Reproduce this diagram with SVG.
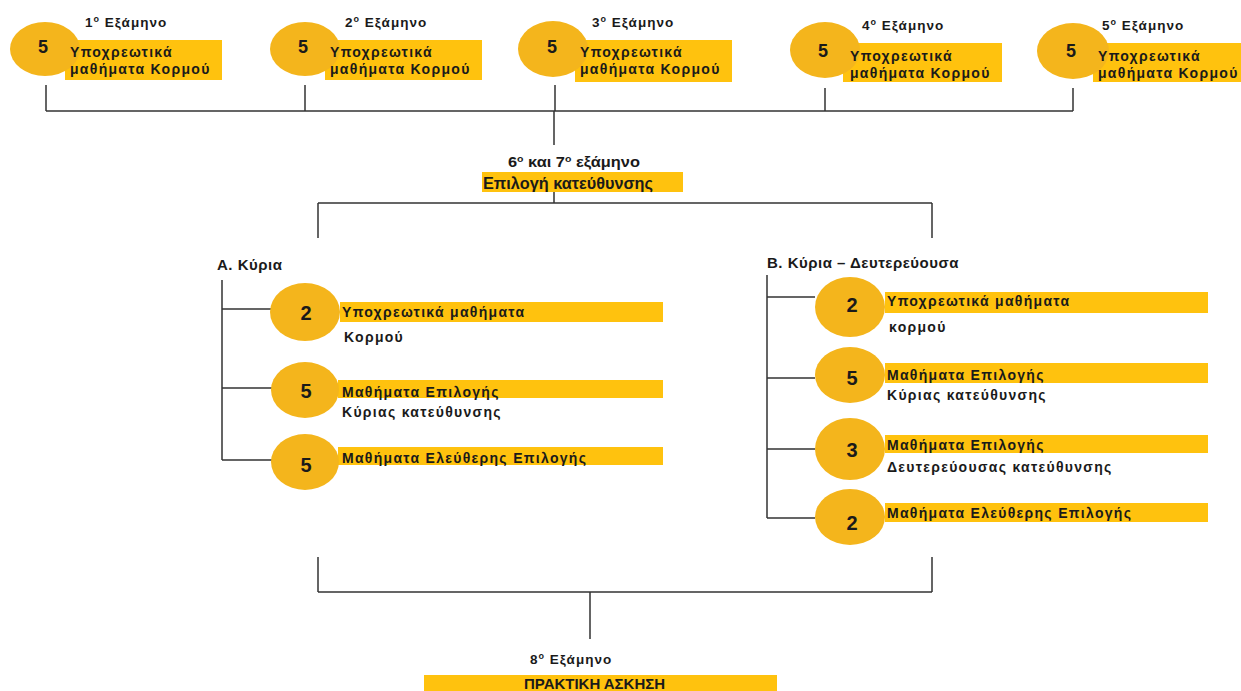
<svg xmlns="http://www.w3.org/2000/svg" width="1241" height="691" viewBox="0 0 1241 691">
<style>
.bg{fill:#ffffff}
.ell{fill:#F4B51C}
.bar{fill:#FFC20E}
.t{font-family:"Liberation Sans",Arial,sans-serif;font-weight:bold;fill:#1a1a1a}
.hd{font-size:13.5px;letter-spacing:1px}
.lb{font-size:14px;letter-spacing:1.3px}
.num{font-size:18px;text-anchor:middle}
.num2{font-size:20px;text-anchor:middle}
.br{font-size:15px;letter-spacing:0.5px}
.c{fill:none;stroke:#333;stroke-width:1.5}
</style>
<rect class="bg" x="0" y="0" width="1241" height="691"/>

<g id="connectors">
<path class="c" d="M46 85V111M305 85V111M555 85V111M825 88V111M1073 88V111M46 111H1073M554 111V145M554 192V203M318 203H932M318 203V238M932 203V238"/>
<path class="c" d="M222 280V460M222 309H272M222 388H272M222 460H272"/>
<path class="c" d="M767 275V518M767 297H815M767 378H815M767 449H815M767 518H815"/>
<path class="c" d="M318 557V592M932 557V592M318 592H932M590 592V639"/>
</g>

<g id="sem1">
<rect class="bar" x="65" y="40" width="157" height="40"/>
<ellipse class="ell" cx="45" cy="49" rx="35" ry="27"/>
<text class="t hd" x="85" y="27">1<tspan font-size="9" dy="-5">ο</tspan><tspan dy="5"> Εξάμηνο</tspan></text>
<text class="t num" x="43" y="53">5</text>
<text class="t lb" x="70" y="57">Υποχρεωτικά</text>
<text class="t lb" x="70" y="74">μαθήματα Κορμού</text>
</g>

<g id="sem2">
<rect class="bar" x="325" y="40" width="157" height="40"/>
<ellipse class="ell" cx="305" cy="49" rx="35" ry="27"/>
<text class="t hd" x="345" y="27">2<tspan font-size="9" dy="-5">ο</tspan><tspan dy="5"> Εξάμηνο</tspan></text>
<text class="t num" x="303" y="53">5</text>
<text class="t lb" x="330" y="57">Υποχρεωτικά</text>
<text class="t lb" x="330" y="74">μαθήματα Κορμού</text>
</g>

<g id="sem3">
<rect class="bar" x="575" y="40" width="157" height="42"/>
<ellipse class="ell" cx="553" cy="49" rx="35" ry="28"/>
<text class="t hd" x="592" y="27">3<tspan font-size="9" dy="-5">ο</tspan><tspan dy="5"> Εξάμηνο</tspan></text>
<text class="t num" x="552" y="53">5</text>
<text class="t lb" x="580" y="57">Υποχρεωτικά</text>
<text class="t lb" x="580" y="74">μαθήματα Κορμού</text>
</g>

<g id="sem4">
<rect class="bar" x="843" y="43" width="159" height="39"/>
<ellipse class="ell" cx="825" cy="50" rx="35" ry="28"/>
<text class="t hd" x="862" y="30">4<tspan font-size="9" dy="-5">ο</tspan><tspan dy="5"> Εξάμηνο</tspan></text>
<text class="t num" x="823" y="57">5</text>
<text class="t lb" x="850" y="61">Υποχρεωτικά</text>
<text class="t lb" x="850" y="78">μαθήματα Κορμού</text>
</g>

<g id="sem5">
<rect class="bar" x="1093" y="43" width="148" height="39"/>
<ellipse class="ell" cx="1073" cy="51" rx="36" ry="28"/>
<text class="t hd" x="1102" y="30">5<tspan font-size="9" dy="-5">ο</tspan><tspan dy="5"> Εξάμηνο</tspan></text>
<text class="t num" x="1071" y="57">5</text>
<text class="t lb" x="1098" y="61">Υποχρεωτικά</text>
<text class="t lb" x="1098" y="78">μαθήματα Κορμού</text>
</g>

<g id="sem67">
<text class="t" font-size="14" x="508" y="167" textLength="132" lengthAdjust="spacingAndGlyphs">6<tspan font-size="9" dy="-5">ο</tspan><tspan dy="5"> και 7</tspan><tspan font-size="9" dy="-5">ο</tspan><tspan dy="5"> εξάμηνο</tspan></text>
<rect class="bar" x="482" y="172" width="201" height="20"/>
<text class="t" font-size="17" x="483" y="189" textLength="170" lengthAdjust="spacingAndGlyphs">Επιλογή κατεύθυνσης</text>
</g>

<g id="branchA">
<text class="t br" x="217" y="270">Α. Κύρια</text>
</g>

<g id="a1">
<rect class="bar" x="340" y="302" width="323" height="20"/>
<ellipse class="ell" cx="305" cy="312" rx="35" ry="29"/>
<text class="t num2" x="306" y="320">2</text>
<text class="t lb" x="342" y="317">Υποχρεωτικά μαθήματα</text>
<text class="t lb" x="344" y="342">Κορμού</text>
</g>

<g id="a2">
<rect class="bar" x="338" y="380" width="325" height="18"/>
<ellipse class="ell" cx="305" cy="390" rx="34" ry="28"/>
<text class="t num2" x="306" y="398">5</text>
<text class="t lb" x="342" y="397">Μαθήματα Επιλογής</text>
<text class="t lb" x="342" y="417">Κύριας κατεύθυνσης</text>
</g>

<g id="a3">
<rect class="bar" x="338" y="447" width="325" height="18"/>
<ellipse class="ell" cx="305" cy="462" rx="34" ry="28"/>
<text class="t num2" x="306" y="472">5</text>
<text class="t lb" x="342" y="463">Μαθήματα Ελεύθερης Επιλογής</text>
</g>

<g id="branchB">
<text class="t br" x="767" y="268">Β. Κύρια – Δευτερεύουσα</text>
</g>

<g id="b1">
<rect class="bar" x="885" y="292" width="323" height="21"/>
<ellipse class="ell" cx="850" cy="307" rx="35" ry="30"/>
<text class="t num2" x="852" y="312">2</text>
<text class="t lb" x="887" y="306">Υποχρεωτικά μαθήματα</text>
<text class="t lb" x="889" y="332">κορμού</text>
</g>

<g id="b2">
<rect class="bar" x="885" y="363" width="323" height="20"/>
<ellipse class="ell" cx="850" cy="375" rx="35" ry="28"/>
<text class="t num2" x="852" y="385">5</text>
<text class="t lb" x="887" y="380">Μαθήματα Επιλογής</text>
<text class="t lb" x="887" y="400">Κύριας κατεύθυνσης</text>
</g>

<g id="b3">
<rect class="bar" x="885" y="435" width="323" height="18"/>
<ellipse class="ell" cx="850" cy="449" rx="35" ry="31"/>
<text class="t num2" x="852" y="457">3</text>
<text class="t lb" x="887" y="450">Μαθήματα Επιλογής</text>
<text class="t lb" x="887" y="472">Δευτερεύουσας κατεύθυνσης</text>
</g>

<g id="b4">
<rect class="bar" x="885" y="503" width="323" height="19"/>
<ellipse class="ell" cx="850" cy="517" rx="35" ry="28"/>
<text class="t num2" x="852" y="530">2</text>
<text class="t lb" x="887" y="518">Μαθήματα Ελεύθερης Επιλογής</text>
</g>

<g id="sem8">
<text class="t hd" x="530" y="664">8<tspan font-size="9" dy="-5">ο</tspan><tspan dy="5"> Εξάμηνο</tspan></text>
<rect class="bar" x="424" y="675" width="353" height="16"/>
<text class="t" font-size="15" x="524" y="689" textLength="141" lengthAdjust="spacingAndGlyphs">ΠΡΑΚΤΙΚΗ ΑΣΚΗΣΗ</text>
</g>
</svg>
